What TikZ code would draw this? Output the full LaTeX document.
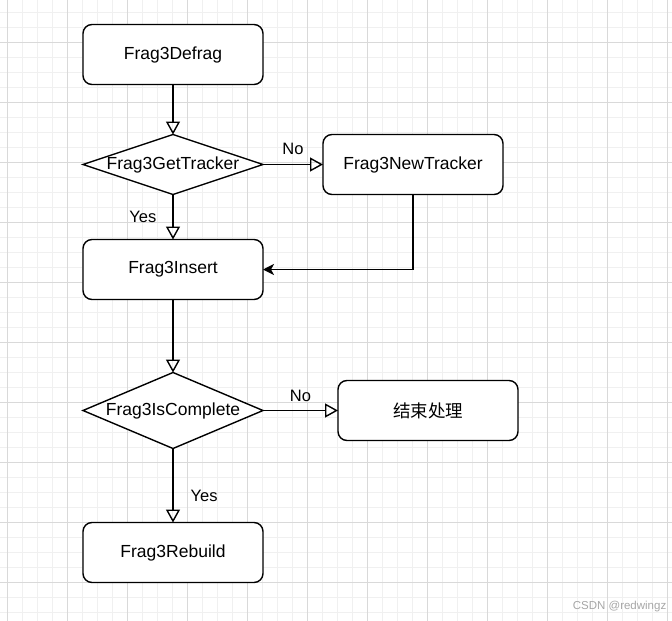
\documentclass[tikz,border=0pt]{standalone}
\usepackage{fontspec}
\setmainfont{Liberation Sans}
\newfontfamily\cjk{Noto Sans CJK SC}
\usetikzlibrary{arrows.meta, positioning, shapes.geometric}

\definecolor{gridminor}{HTML}{F0F0F0}
\definecolor{gridmajor}{HTML}{D9D9D9}

\begin{document}
\begin{tikzpicture}[x=1pt, y=-1pt, line width=1.4pt,
		>={Triangle[open, length=13pt, width=14pt]},
		box/.style={draw, fill=white, rounded corners=9pt, minimum width=180pt, minimum height=60pt, outer sep=0pt, font=\fontsize{17.5}{21}\selectfont},
		test/.style={draw, fill=white, diamond, minimum width=180pt, minimum height=60pt, inner sep=0pt, outer sep=0pt, font=\fontsize{17.5}{21}\selectfont},
		lbl/.style={font=\fontsize{16.5}{19}\selectfont, inner sep=0pt}]
		\useasboundingbox (0,0) rectangle (672,621);

		% background grid
		\foreach \gx in {7,22,...,667} \draw[gridminor, line width=0.8pt] (\gx,0) -- (\gx,621);
		\foreach \gy in {12,27,...,612} \draw[gridminor, line width=0.8pt] (0,\gy) -- (672,\gy);
		\foreach \gx in {7,67,...,667} \draw[gridmajor, line width=0.8pt] (\gx,0) -- (\gx,621);
		\foreach \gy in {42,102,...,582} \draw[gridmajor, line width=0.8pt] (0,\gy) -- (672,\gy);

		\node[box] (defrag) at (173,54.5) {Frag3Defrag};
		\node[test] [below=50pt of defrag] (gettracker) {\makebox[0pt]{Frag3GetTracker}};
		\node[box] [right=60pt of gettracker] (newtracker) {Frag3NewTracker};
		\node[box] [below=45pt of gettracker] (insert) {Frag3Insert};
		\node[test, minimum height=76pt] [below=73pt of insert] (complete) {\makebox[0pt]{Frag3IsComplete}};
		\node[box] [right=75pt of complete] (finish) {\cjk 结束处理};
		\node[box] [below=74pt of complete] (rebuild) {Frag3Rebuild};

		\draw[->] (defrag.south) -- (gettracker.north);
		\draw[->] (gettracker.east) -- node[lbl, above=9pt] {No} (newtracker.west);
		\draw[->] (gettracker.south) -- node[lbl, left=16pt] {Yes} (insert.north);
		\draw[-{Stealth[length=11pt, width=11pt, inset=3pt]}] (newtracker.south) |- (insert.east);
		\draw[->] (insert.south) -- (complete.north);
		\draw[->] (complete.east) -- node[lbl, above=8pt] {No} (finish.west);
		\draw[->] (complete.south) -- node[lbl, right=17pt, pos=0.64] {Yes} (rebuild.north);

		\node[anchor=east, text=black!35, font=\fontsize{11.5}{13}\selectfont, inner sep=0pt] (mark) at (667,607) {CSDN @redwingz};
	\end{tikzpicture}
\end{document}
